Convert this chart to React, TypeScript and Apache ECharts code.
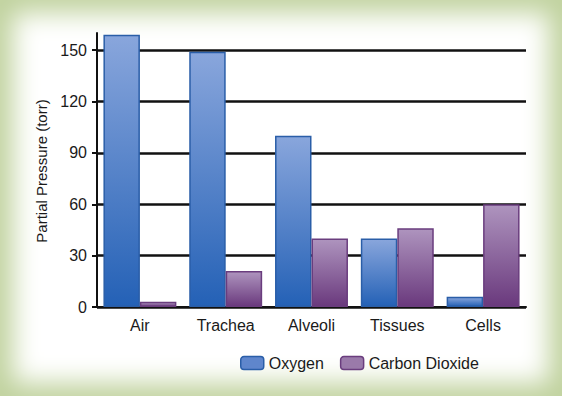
import React, { useEffect, useRef } from "react";
import * as echarts from "echarts";

const categories = ["Air", "Trachea", "Alveoli", "Tissues", "Cells"];
const oxygen = [159, 149, 100, 40, 6];
const carbonDioxide = [3, 21, 40, 46, 60];
const yTicks = { min: 0, max: 160, interval: 30 };
const yTitle = "Partial Pressure (torr)";

export default function App() {
  const ref = useRef<HTMLDivElement>(null);
  useEffect(() => {
    if (!ref.current) return;
    const chart = echarts.init(ref.current, undefined, { renderer: "svg" });
    const font = "'Liberation Sans', Arial, sans-serif";
    const blueGrad = new echarts.graphic.LinearGradient(0, 0, 0, 1, [
      { offset: 0, color: "#89a6dc" },
      { offset: 1, color: "#2461b6" },
    ]);
    const purpleGrad = new echarts.graphic.LinearGradient(0, 0, 0, 1, [
      { offset: 0, color: "#ae94be" },
      { offset: 1, color: "#6a397d" },
    ]);
    chart.setOption({
      animation: false,
      backgroundColor: "transparent",
      textStyle: { fontFamily: font },
      grid: { left: 97, right: 36, top: 33, bottom: 89 },
      graphic: [
        {
          type: "text",
          x: 41,
          y: 171,
          rotation: Math.PI / 2,
          style: {
            text: yTitle,
            fontFamily: font,
            fontSize: 15,
            fill: "#1a1a1a",
            align: "center",
            verticalAlign: "middle",
          },
        },
      ],
      legend: {
        left: 235,
        top: 350,
        itemWidth: 23,
        itemHeight: 13,
        itemGap: 16,
        textStyle: { fontFamily: font, fontSize: 16, color: "#1a1a1a" },
        data: [
          { name: "Oxygen", itemStyle: { color: "#5f86cc", borderColor: "#2a5ea8", borderWidth: 1.5 } },
          { name: "Carbon Dioxide", itemStyle: { color: "#9a7aaa", borderColor: "#6a3d7e", borderWidth: 1.5 } },
        ],
      },
      xAxis: {
        type: "category",
        data: categories,
        axisLine: { lineStyle: { color: "#111", width: 2 } },
        axisTick: { show: false },
        axisLabel: { fontFamily: font, fontSize: 16, color: "#1a1a1a", margin: 10 },
      },
      yAxis: {
        type: "value",
        min: yTicks.min,
        max: yTicks.max,
        interval: yTicks.interval,
        axisLine: { show: true, lineStyle: { color: "#111", width: 2 } },
        axisTick: { show: true, length: 5, lineStyle: { color: "#111", width: 2 } },
        axisLabel: { fontFamily: font, fontSize: 16, color: "#1a1a1a", margin: 10, showMaxLabel: false },
        splitLine: { show: true, showMaxLine: false, lineStyle: { color: "#111", width: 2.5 } },
      },
      series: [
        {
          name: "Oxygen",
          type: "bar",
          data: oxygen,
          barGap: "0%",
          barCategoryGap: "15%",
          itemStyle: { color: blueGrad, borderColor: "#2a5ea8", borderWidth: 1.5 },
        },
        {
          name: "Carbon Dioxide",
          type: "bar",
          data: carbonDioxide,
          barGap: "0%",
          barCategoryGap: "15%",
          itemStyle: { color: purpleGrad, borderColor: "#6a3d7e", borderWidth: 1.5 },
        },
      ],
    });
    return () => chart.dispose();
  }, []);
  return (
    <div
      style={{
        position: "fixed",
        left: 0,
        top: 0,
        width: 562,
        height: 396,
        background: "#ffffff",
        boxShadow: "inset 0 0 26px 13px #c0d29e",
      }}
    >
      <div ref={ref} style={{ width: 562, height: 396 }} />
    </div>
  );
}
